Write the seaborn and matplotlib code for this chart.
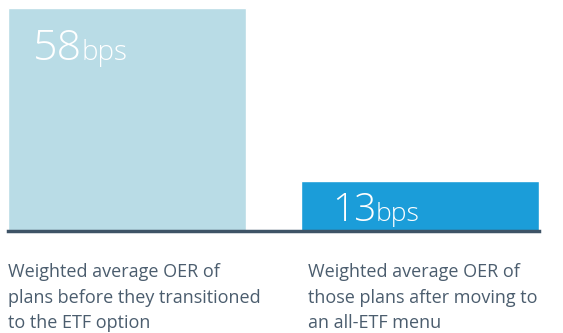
import matplotlib
matplotlib.use("Agg")
import matplotlib.pyplot as plt
import seaborn as sns
import pandas as pd

categories = ["before", "after"]
values = [58, 13]
units = ["bps", "bps"]
labels = [["Weighted average OER of", "plans before they transitioned", "to the ETF option"],
          ["Weighted average OER of", "those plans after moving to", "an all-ETF menu"]]
colors = ["#b9dce6", "#1b9dd9"]

sns.set_theme(style="white")
plt.rcParams['font.family'] = ['Roboto', 'DejaVu Sans']

W, H = 563, 333
fig = plt.figure(figsize=(W / 100, H / 100), dpi=100)
ax = fig.add_axes([8 / W, (H - 231) / H, (539 - 8) / W, 223 / H])

df = pd.DataFrame({"cat": categories, "val": values})
w = 0.815
sns.barplot(data=df, x="cat", y="val", hue="cat", palette=colors, width=w,
            dodge=False, legend=False, ax=ax, saturation=1)
ax.set_xlim(-w / 2, 1 + w / 2)
ax.set_ylim(0, 58)
ax.set_xlabel("")
ax.set_ylabel("")
ax.set_xticks([])
ax.set_yticks([])
for s in ["top", "left", "right"]:
    ax.spines[s].set_visible(False)
ax.spines["bottom"].set_visible(True)
ax.spines["bottom"].set_color("#3e5366")
ax.spines["bottom"].set_linewidth(2.5)

# value labels
big = [31, 28]
small = [20, 19]
offs = [(33 / W, (H - 60) / H), (332 / W, (H - 221) / H)]
numfam = ["Open Sans", "DejaVu Sans"]
fig.canvas.draw()
for i, (v, u) in enumerate(zip(values, units)):
    x0, y0 = offs[i]
    t = fig.text(x0, y0, str(v), color="white", fontsize=big[i], fontweight="light",
                 ha="left", va="baseline", family=numfam)
    fig.canvas.draw()
    bb = t.get_window_extent()
    fig.text((bb.x1 - 1) / W, y0, u, color="white", fontsize=small[i],
             fontweight="light", ha="left", va="baseline", family=numfam)

# category labels
label_x = [8 / W, 308 / W]
baselines = [277, 303, 328]
for i, lines in enumerate(labels):
    for j, line in enumerate(lines):
        fig.text(label_x[i], (H - baselines[j]) / H, line, color="#4b5d6e",
                 fontsize=13, ha="left", va="baseline",
                 family=["Open Sans", "DejaVu Sans"])

fig.savefig("out.png", dpi=100)
